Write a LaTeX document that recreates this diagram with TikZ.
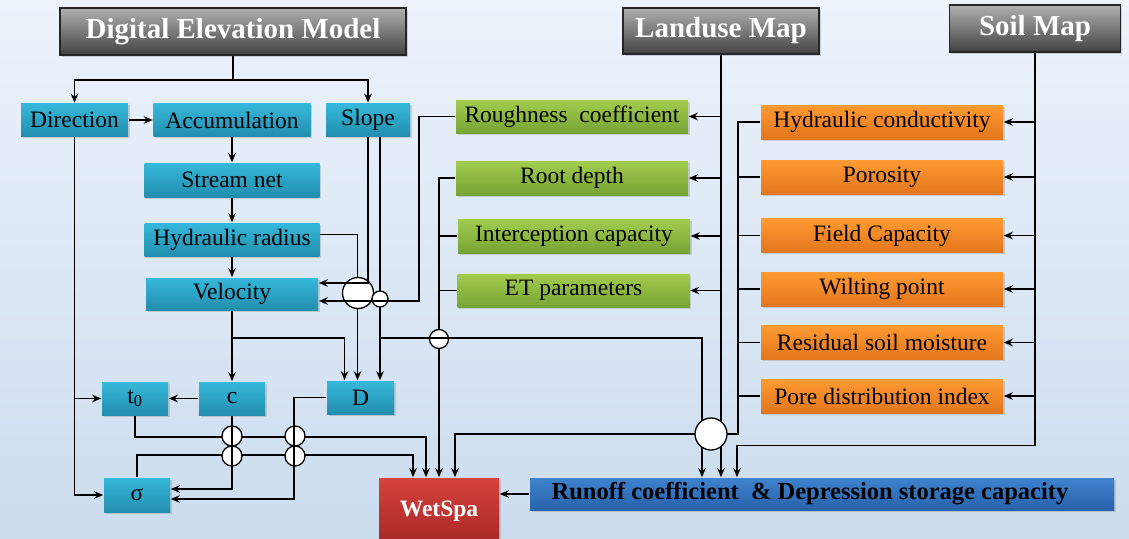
\documentclass[tikz,border=0pt]{standalone}
\usepackage{fontspec}
\setmainfont{Liberation Serif}
\usetikzlibrary{arrows.meta,shadows}
\definecolor{bgtop}{RGB}{237,243,251}
\definecolor{bgbot}{RGB}{203,220,238}
\definecolor{cyTop}{RGB}{54,184,218}
\definecolor{cyBot}{RGB}{34,142,174}
\definecolor{grTop}{RGB}{162,204,78}
\definecolor{grBot}{RGB}{118,164,52}
\definecolor{orTop}{RGB}{255,154,50}
\definecolor{orBot}{RGB}{226,118,28}
\definecolor{mapTop}{RGB}{176,176,176}
\definecolor{mapBot}{RGB}{66,66,66}
\definecolor{wsTop}{RGB}{214,66,60}
\definecolor{wsBot}{RGB}{166,40,38}
\definecolor{rcTop}{RGB}{62,130,206}
\definecolor{rcBot}{RGB}{40,98,170}
\begin{document}
\begin{tikzpicture}[x=1pt,y=-1pt,line width=1.6pt,
  every node/.style={inner sep=0pt,font=\fontsize{23.5}{26}\selectfont},
  cell/.style={minimum height=33pt,drop shadow={shadow xshift=1.5pt,shadow yshift=-1.5pt,opacity=.3}},
  mapbox/.style={cell,draw=black!85,line width=1.2pt,top color=mapTop,bottom color=mapBot,text=white,font=\fontsize{29}{32}\selectfont\bfseries,minimum height=47pt},
  demcell/.style={cell,top color=cyTop,bottom color=cyBot},
  lupar/.style={cell,top color=grTop,bottom color=grBot,minimum width=232pt,minimum height=34pt},
  soilpar/.style={cell,top color=orTop,bottom color=orBot,minimum width=242pt,minimum height=34pt},
  wsbox/.style={cell,top color=wsTop,bottom color=wsBot,text=white,font=\fontsize{23.5}{26}\selectfont\bfseries},
  rcbox/.style={cell,top color=rcTop,bottom color=rcBot,font=\fontsize{24.5}{27}\selectfont\bfseries},
  jump/.style={circle,draw,fill=white,line width=1.3pt,minimum size=20pt},
  arr/.style={-{Stealth[length=9pt,width=7.5pt]}}]
\useasboundingbox (0,0) rectangle (1129,538);
\fill[top color=bgtop,bottom color=bgbot] (0,0) rectangle (1129,538);
\node[mapbox,minimum width=346pt] (dem) at (233,31.5) {Digital Elevation Model};
\node[mapbox,minimum width=196pt,minimum height=46pt] (lum) at (721,31) {Landuse Map};
\node[mapbox,minimum width=171pt] (soil) at (1035,28.5) {Soil Map};
\node[demcell,minimum width=107pt] (dir) at (74.5,120) {Direction};
\node[demcell,minimum width=157pt] (acc) at (232,120) {Accumulation};
\node[demcell,minimum width=84pt] (slope) at (368,120) {Slope};
\node[demcell,minimum width=175pt,minimum height=34pt] (stream) at (232,180) {Stream net};
\node[demcell,minimum width=175pt] (hrad) at (232,239.5) {Hydraulic radius};
\node[demcell,minimum width=172pt,minimum height=32pt] (vel) at (232,294) {Velocity};
\node[demcell,minimum width=66pt] (t0) at (135,398.5) {t\textsubscript{0}};
\node[demcell,minimum width=66pt] (cc) at (232,398.5) {c};
\node[demcell,minimum width=67pt] (dd) at (360.5,397.5) {D};
\node[demcell,minimum width=66pt,minimum height=34pt] (sig) at (137,495) {σ};
\node[wsbox,minimum width=120pt,minimum height=67pt] (wetspa) at (439,511.5) {WetSpa};
\node[rcbox,minimum width=584pt,minimum height=32pt] (runoff) at (822,494) {Runoff coefficient~~\& Depression storage capacity\hspace*{24pt}};
\node[lupar,minimum height=33pt] (rough) at (572,116.5) {Roughness~~coefficient};
\node[lupar] (root) at (572,178) {Root depth};
\node[lupar] (icap) at (574,236) {Interception capacity};
\node[lupar,minimum height=33pt] (etp) at (573.5,290.5) {ET parameters};
\node[soilpar] (hcond) at (882,122) {Hydraulic conductivity};
\node[soilpar] (poro) at (882,177) {Porosity};
\node[soilpar] (fcap) at (882,235.5) {Field Capacity};
\node[soilpar] (wilt) at (882,289) {Wilting point};
\node[soilpar] (resid) at (882,342.5) {Residual soil moisture};
\node[soilpar] (pore) at (882,396) {Pore distribution index};
\coordinate (demj) at (233,80);
\draw (dem.south) -- (demj);
\draw[arr] (demj) -| (dir.north);
\draw[arr] (demj) -| (slope.north);
\draw[arr] (dir.east) -- (acc.west);
\draw[arr] (acc.south) -- (stream.north);
\draw[arr] (stream.south) -- (hrad.north);
\draw[arr] (hrad.south) -- (vel.north);
\draw[arr] (dir.south) |- (sig.west);
\draw[arr] (dir.south |- t0.west) -- (t0.west);
\draw[arr] (cc.west) -- (t0.east);
\draw[arr] (vel.south) -- (cc.north);
\coordinate (velj) at (232,338);
\draw[arr] (velj) -| ([xshift=-16pt]dd.north);
\draw[arr] ([yshift=5pt]hrad.east) -| ([xshift=-3pt]dd.north);
\draw[arr] ([xshift=12pt]slope.south) -- ([xshift=19.5pt]dd.north);
\node[jump,minimum size=31pt] (jhr) at (358,293) {};
\node[jump,minimum size=16pt] (jsl) at (380,299) {};
\draw[arr] (slope.south) |- ([yshift=11pt]vel.east);
\draw[arr] (rough.west) -- ++(-36,0) |- ([yshift=-7pt]vel.east);
\draw[arr] (root.west) -| (wetspa.north);
\draw (icap.west) -- (icap.west -| wetspa.north);
\draw (etp.west) -- (etp.west -| wetspa.north);
\node[jump,minimum size=19pt] (jrd) at (439,339) {};
\coordinate (slj) at (380,338);
\draw[arr] (slj) -| ([xshift=-120pt]runoff.north);
\draw[arr] (lum.south) -- (lum.south |- runoff.north);
\foreach \n in {rough,root,icap,etp}
  \draw[arr] (lum.south |- \n.east) -- (\n.east);
\draw[arr] (soil.south) -- ++(0,393) -| ([xshift=-85pt]runoff.north);
\foreach \n in {hcond,poro,fcap,wilt,resid,pore}
  \draw[arr] (soil.south |- \n.east) -- (\n.east);
\draw[arr] (hcond.west) -- ++(-22,0) -- ++(0,312) -| ([xshift=16pt]wetspa.north);
\foreach \n in {poro,fcap,wilt,resid,pore}
  \draw (\n.west) -- ++(-22,0);
\node[jump,minimum size=32pt] (jsp) at (711,434) {};
\draw[arr] (t0.south) -- ++(0,21) -| ([xshift=-13pt]wetspa.north);
\draw[arr] (sig.north) -- ++(0,-22) -| ([xshift=-26pt]wetspa.north);
\foreach \x in {232,295}
  \foreach \y in {436,456}
    \node[jump] (jp\x\y) at (\x,\y) {};
\draw[arr] (cc.south) |- ([yshift=6pt]sig.east);
\draw[arr] (dd.west) -- ++(-32,0) |- ([yshift=-4pt]sig.east);
\draw[arr] (runoff.west) -- (runoff.west -| wetspa.east);
\end{tikzpicture}
\end{document}
